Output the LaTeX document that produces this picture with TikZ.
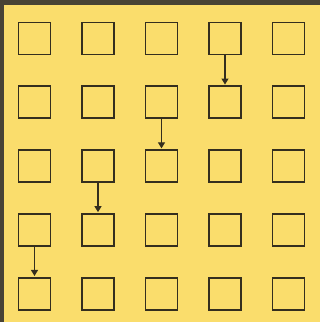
\documentclass[tikz,border=0pt]{standalone}
\usetikzlibrary{arrows.meta}

\definecolor{paper}{RGB}{250,221,108}
\definecolor{ink}{RGB}{52,46,30}

\begin{document}
\begin{tikzpicture}[
    x=1pt, y=-1pt,
    box/.style={draw=ink, line width=1.9pt, minimum size=32pt,
                inner sep=0pt},
    step arrow/.style={-{Triangle[length=6pt, width=7pt]}, draw=ink,
                       line width=1.1pt, shorten >=0.8pt},
  ]
  % background and dark edge
  \fill[paper] (0,0) rectangle (320,322);
  \fill[ink!90] (0,0) rectangle (320,5);
  \fill[ink!90] (0,0) rectangle (4,322);
  \useasboundingbox (0,0) rectangle (320,322);
  % grid of squares
  \foreach \r in {1,...,5} {
    \foreach \c in {1,...,5} {
      \node[box] (s-\r-\c) at ({34.5+63.5*(\c-1)}, {38.5+63.8*(\r-1)}) {};
    }
  }
  % staircase of arrows
  \foreach \r/\c/\n in {1/4/2, 2/3/3, 3/2/4, 4/1/5} {
    \draw[step arrow] (s-\r-\c.south) -- (s-\n-\c.north);
  }
\end{tikzpicture}
\end{document}
